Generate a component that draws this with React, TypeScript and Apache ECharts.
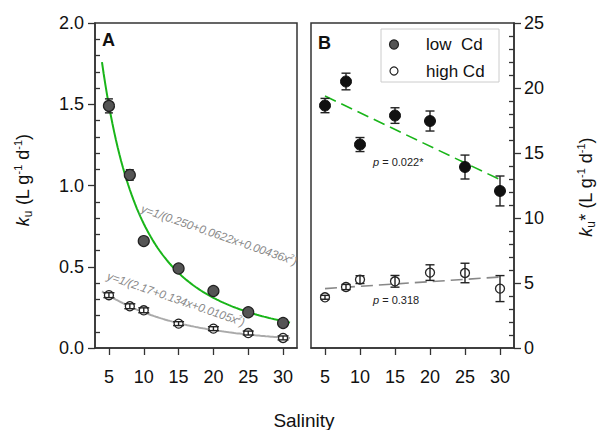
import React, { useEffect, useRef } from "react";
import * as echarts from "echarts";

// ---------- data ----------
const salinity = [5, 8, 10, 15, 20, 25, 30];
const kuLow = [1.49, 1.065, 0.658, 0.489, 0.351, 0.22, 0.154];
const kuLowErr = [0.043, 0.032, 0.015, 0.012, 0.012, 0.01, 0.01];
const kuHigh = [0.325, 0.257, 0.232, 0.15, 0.119, 0.092, 0.062];
const kuHighErr = [0.015, 0.015, 0.015, 0.012, 0.012, 0.012, 0.012];
const kuStarLow = [18.65, 20.5, 15.65, 17.88, 17.46, 13.92, 12.08];
const kuStarLowErr = [0.55, 0.64, 0.54, 0.6, 0.77, 0.92, 1.15];
const kuStarHigh = [3.9, 4.69, 5.26, 5.13, 5.8, 5.77, 4.57];
const kuStarHighErr = [0.15, 0.2, 0.3, 0.45, 0.6, 0.75, 1.0];

// fitted curves y = 1/(a + b x + c x^2), as printed in panel A
const fitLow = [0.25, 0.0622, 0.00436];
const fitHigh = [2.17, 0.134, 0.0105];
const fitRange = [4, 31];

// linear trends in panel B (end points)
const trendLowX = [5, 30];
const trendLowY = [19.38, 12.95];
const trendHighX = [5, 30];
const trendHighY = [4.57, 5.46];

// ticks
const xTicks = [5, 10, 15, 20, 25, 30];
const yMinorA = [0.1, 0.2, 0.3, 0.4, 0.6, 0.7, 0.8, 0.9, 1.1, 1.2, 1.3, 1.4, 1.6, 1.7, 1.8, 1.9];
const yMinorB = [1, 2, 3, 4, 6, 7, 8, 9, 11, 12, 13, 14, 16, 17, 18, 19, 21, 22, 23, 24];

const FONT = "'Liberation Sans', Arial, Helvetica, sans-serif";
const GREEN = "#19b519";

function fitCurve(coef: number[]) {
  const pts: number[][] = [];
  for (let x = fitRange[0]; x <= fitRange[1] + 1e-9; x += 0.25) {
    pts.push([x, 1 / (coef[0] + coef[1] * x + coef[2] * x * x)]);
  }
  return pts;
}

function errSeries(name: string, ys: number[], es: number[], xi: number, yi: number, z: number, cap: number) {
  return {
    type: "custom",
    name,
    xAxisIndex: xi,
    yAxisIndex: yi,
    z,
    silent: true,
    encode: { x: 0, y: 1 },
    data: salinity.map((x, i) => [x, ys[i], es[i]]),
    renderItem: (params: any, api: any) => {
      const x = api.value(0);
      const y = api.value(1);
      const e = api.value(2);
      const t = api.coord([x, y + e]);
      const b = api.coord([x, y - e]);
      const st = { stroke: "#222", lineWidth: 1.4 };
      return {
        type: "group",
        children: [
          { type: "line", shape: { x1: t[0], y1: t[1], x2: b[0], y2: b[1] }, style: st },
          { type: "line", shape: { x1: t[0] - cap, y1: t[1], x2: t[0] + cap, y2: t[1] }, style: st },
          { type: "line", shape: { x1: b[0] - cap, y1: b[1], x2: b[0] + cap, y2: b[1] }, style: st },
        ],
      };
    },
  };
}

function xAxisCfg(gridIndex: number) {
  return {
    type: "value",
    gridIndex,
    min: 3,
    max: 32,
    axisLine: { show: true, lineStyle: { color: "#333", width: 1.5 } },
    axisTick: { show: true, inside: false, length: 7, customValues: xTicks, lineStyle: { color: "#333", width: 1.3 } },
    axisLabel: { customValues: xTicks, margin: 20, fontSize: 18, color: "#111", fontFamily: FONT },
    splitLine: { show: false },
  };
}

export default function App() {
  const ref = useRef<HTMLDivElement>(null);
  useEffect(() => {
    if (!ref.current) return;
    const chart = echarts.init(ref.current, null, { renderer: "svg" });
    const gridA = { left: 95, top: 23, width: 202, height: 325, show: true, borderColor: "#333", borderWidth: 1.5, backgroundColor: "#fff" };
    const gridB = { left: 311, top: 23, width: 203, height: 325, show: true, borderColor: "#333", borderWidth: 1.5, backgroundColor: "#fff" };

    const option: any = {
      animation: false,
      backgroundColor: "#fff",
      grid: [gridA, gridB],
      xAxis: [xAxisCfg(0), xAxisCfg(1)],
      yAxis: [
        {
          type: "value",
          gridIndex: 0,
          min: 0,
          max: 2,
          interval: 0.5,
          position: "left",
          axisLine: { show: true, lineStyle: { color: "#333", width: 1.5 } },
          axisTick: { show: true, inside: false, length: 7, lineStyle: { color: "#333", width: 1.3 } },
          axisLabel: { formatter: (v: number) => v.toFixed(1), margin: 11, fontSize: 18, color: "#111", fontFamily: FONT },
          splitLine: { show: false },
        },
        {
          type: "value",
          gridIndex: 0,
          min: 0,
          max: 2,
          position: "left",
          axisLine: { show: false },
          axisTick: { show: true, inside: true, length: 5, customValues: yMinorA, lineStyle: { color: "#333", width: 1.3 } },
          axisLabel: { show: false },
          splitLine: { show: false },
        },
        {
          type: "value",
          gridIndex: 1,
          min: 0,
          max: 25,
          interval: 5,
          position: "right",
          axisLine: { show: true, lineStyle: { color: "#333", width: 1.5 } },
          axisTick: { show: true, inside: false, length: 7, lineStyle: { color: "#333", width: 1.3 } },
          axisLabel: { margin: 10, fontSize: 18, color: "#111", fontFamily: FONT },
          splitLine: { show: false },
        },
        {
          type: "value",
          gridIndex: 1,
          min: 0,
          max: 25,
          position: "right",
          axisLine: { show: false },
          axisTick: { show: true, inside: true, length: 5, customValues: yMinorB, lineStyle: { color: "#333", width: 1.3 } },
          axisLabel: { show: false },
          splitLine: { show: false },
        },
      ],
      series: [
        // Panel A curves
        {
          type: "line",
          name: "fit low",
          xAxisIndex: 0,
          yAxisIndex: 0,
          data: fitCurve(fitLow),
          showSymbol: false,
          silent: true,
          z: 1,
          lineStyle: { color: GREEN, width: 2 },
        },
        {
          type: "line",
          name: "fit high",
          xAxisIndex: 0,
          yAxisIndex: 0,
          data: fitCurve(fitHigh),
          showSymbol: false,
          silent: true,
          z: 1,
          lineStyle: { color: "#aaaaaa", width: 2 },
        },
        errSeries("err A low", kuLow, kuLowErr, 0, 0, 2, 4),
        {
          type: "scatter",
          name: "low  Cd",
          xAxisIndex: 0,
          yAxisIndex: 0,
          z: 3,
          symbol: "circle",
          symbolSize: 11,
          data: salinity.map((x, i) => [x, kuLow[i]]),
          itemStyle: { color: "#555", borderColor: "#222", borderWidth: 1.2, opacity: 1 },
        },
        {
          type: "scatter",
          name: "high Cd",
          xAxisIndex: 0,
          yAxisIndex: 0,
          z: 3,
          symbol: "circle",
          symbolSize: 9,
          data: salinity.map((x, i) => [x, kuHigh[i]]),
          itemStyle: { color: "#fff", borderColor: "#222", borderWidth: 1.3, opacity: 1 },
        },
        errSeries("err A high", kuHigh, kuHighErr, 0, 0, 4, 5.5),
        // Panel B trends
        {
          type: "line",
          name: "trend low",
          xAxisIndex: 1,
          yAxisIndex: 2,
          data: trendLowX.map((x, i) => [x, trendLowY[i]]),
          showSymbol: false,
          silent: true,
          z: 1,
          lineStyle: { color: GREEN, width: 1.6, type: [12, 6] },
        },
        {
          type: "line",
          name: "trend high",
          xAxisIndex: 1,
          yAxisIndex: 2,
          data: trendHighX.map((x, i) => [x, trendHighY[i]]),
          showSymbol: false,
          silent: true,
          z: 1,
          lineStyle: { color: "#888", width: 1.6, type: [12, 6] },
        },
        errSeries("err B low", kuStarLow, kuStarLowErr, 1, 2, 2, 4.5),
        {
          type: "scatter",
          name: "B low",
          xAxisIndex: 1,
          yAxisIndex: 2,
          z: 3,
          symbol: "circle",
          symbolSize: 11,
          data: salinity.map((x, i) => [x, kuStarLow[i]]),
          itemStyle: { color: "#111", borderColor: "#111", borderWidth: 1, opacity: 1 },
        },
        {
          type: "scatter",
          name: "B high",
          xAxisIndex: 1,
          yAxisIndex: 2,
          z: 3,
          symbol: "circle",
          symbolSize: 9,
          data: salinity.map((x, i) => [x, kuStarHigh[i]]),
          itemStyle: { color: "#fff", borderColor: "#222", borderWidth: 1.3, opacity: 1 },
        },
        errSeries("err B high", kuStarHigh, kuStarHighErr, 1, 2, 4, 4.5),
      ],
      graphic: [
        // panel letters
        { type: "text", left: 102, top: 31, z: 10, style: { text: "A", fontSize: 18, fontWeight: "bold", fontFamily: FONT, fill: "#111" } },
        { type: "text", left: 318, top: 34, z: 10, style: { text: "B", fontSize: 18, fontWeight: "bold", fontFamily: FONT, fill: "#111" } },
        // legend
        {
          type: "group",
          z: 10,
          children: [
            { type: "rect", shape: { x: 381, y: 29, width: 118, height: 53 }, style: { fill: "#fff", stroke: "#cccccc", lineWidth: 1 } },
            { type: "circle", shape: { cx: 394, cy: 44.5, r: 4.5 }, style: { fill: "#555", stroke: "#222", lineWidth: 1.2 } },
            { type: "text", x: 426, y: 44.5, style: { text: "low  Cd", fontSize: 17, fontFamily: FONT, fill: "#111", verticalAlign: "middle", align: "left" } },
            { type: "circle", shape: { cx: 394, cy: 71, r: 4 }, style: { fill: "#fff", stroke: "#222", lineWidth: 1.2 } },
            { type: "text", x: 426, y: 71, style: { text: "high Cd", fontSize: 17, fontFamily: FONT, fill: "#111", verticalAlign: "middle", align: "left" } },
          ],
        },
        // equations
        {
          type: "text",
          x: 219,
          y: 235,
          rotation: (-19 * Math.PI) / 180,
          z: 10,
          style: {
            text: "y=1/(0.250+0.0622x+0.00436x{sup|2})",
            fontSize: 11.5,
            fontStyle: "italic",
            fontFamily: FONT,
            fill: "#888",
            align: "center",
            verticalAlign: "middle",
            rich: { sup: { fontSize: 7, fontStyle: "italic", fill: "#888", verticalAlign: "top", lineHeight: 14 } },
          },
        },
        {
          type: "text",
          x: 176,
          y: 299,
          rotation: (-19 * Math.PI) / 180,
          z: 10,
          style: {
            text: "y=1/(2.17+0.134x+0.0105x{sup|2})",
            fontSize: 11.5,
            fontStyle: "italic",
            fontFamily: FONT,
            fill: "#888",
            align: "center",
            verticalAlign: "middle",
            rich: { sup: { fontSize: 7, fontStyle: "italic", fill: "#888", verticalAlign: "top", lineHeight: 14 } },
          },
        },
        // p values
        {
          type: "text",
          x: 373,
          y: 162,
          z: 10,
          style: {
            text: "{i|p} = 0.022*",
            fontSize: 11,
            fontFamily: FONT,
            fill: "#222",
            verticalAlign: "middle",
            rich: { i: { fontStyle: "italic", fontSize: 11, fill: "#222" } },
          },
        },
        {
          type: "text",
          x: 373,
          y: 300,
          z: 10,
          style: {
            text: "{i|p} = 0.318",
            fontSize: 11,
            fontFamily: FONT,
            fill: "#222",
            verticalAlign: "middle",
            rich: { i: { fontStyle: "italic", fontSize: 11, fill: "#222" } },
          },
        },
        // axis titles
        {
          type: "text",
          x: 23,
          y: 180,
          rotation: Math.PI / 2,
          z: 10,
          style: {
            text: "{k|k}{s|u} (L g{p|-1} d{p|-1})",
            fontSize: 18,
            fontFamily: FONT,
            fill: "#111",
            align: "center",
            verticalAlign: "middle",
            lineHeight: 22,
            rich: {
              k: { fontStyle: "italic", fontSize: 18, fill: "#111", lineHeight: 22 },
              s: { fontSize: 12, fill: "#111", verticalAlign: "bottom", lineHeight: 12 },
              p: { fontSize: 11, fill: "#111", verticalAlign: "top", lineHeight: 11 },
            },
          },
        },
        {
          type: "text",
          x: 586,
          y: 187,
          rotation: Math.PI / 2,
          z: 10,
          style: {
            text: "{k|k}{s|u}* (L g{p|-1} d{p|-1})",
            fontSize: 18,
            fontFamily: FONT,
            fill: "#111",
            align: "center",
            verticalAlign: "middle",
            lineHeight: 22,
            rich: {
              k: { fontStyle: "italic", fontSize: 18, fill: "#111", lineHeight: 22 },
              s: { fontSize: 12, fill: "#111", verticalAlign: "bottom", lineHeight: 12 },
              p: { fontSize: 11, fill: "#111", verticalAlign: "top", lineHeight: 11 },
            },
          },
        },
        {
          type: "text",
          x: 304,
          y: 420,
          z: 10,
          style: { text: "Salinity", fontSize: 19, fontFamily: FONT, fill: "#111", align: "center", verticalAlign: "middle" },
        },
      ],
    };
    chart.setOption(option);
    return () => chart.dispose();
  }, []);
  return <div ref={ref} style={{ position: "fixed", left: 0, top: 0, width: 601, height: 430 }} />;
}
